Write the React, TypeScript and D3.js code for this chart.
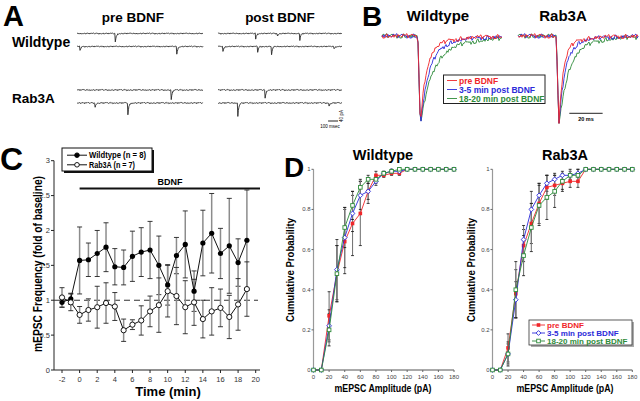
import React from 'react';
import * as d3 from 'd3';

// ---------------- Panel A : raw sweeps ----------------
const aColumns = ['pre BDNF', 'post BDNF'];
const aRows = ['Wildtype', 'Rab3A'];
const aPreEventTimes = [[380], [30, 990], [935], [180, 505]];
const aPreEventAmps = [[36], [16, 32], [40], [16, 48]];
const aPostEventTimes = [[380, 600, 825], [50, 400, 540, 1170], [475], [200, 1120]];
const aPostEventAmps = [[22, 10, 26], [22, 22, 34, 10], [34], [54, 12]];
const aScaleBarMs = 100;
const aScaleBarPA = 40;
const noise = [0.3, -0.5, 0.8, -0.2, 0.1, -0.9, 0.6, 0.2, -0.4, 0.7, -0.6, 0.0, 0.5, -0.3, 0.9, -0.8, 0.2, -0.1, 0.4, -0.7, 0.6, -0.2, 0.3, -0.5, 0.1, 0.8, -0.4, -0.9, 0.5, 0.2, -0.6, 0.7, -0.1, 0.0, 0.4, -0.3, 0.6];

// ---------------- Panel B : averaged mEPSCs ----------------
const bLegend = ['pre BDNF', '3-5 min post BDNF', '18-20 min post BDNF'];
const bColors = ['#f0262a', '#2b2bd9', '#2e8b3a'];
const bGenotypes = ['Wildtype', 'Rab3A'];
const bWtAmp = [0.96, 0.99, 1.0];
const bWtFastTau = [3.5, 5.0, 6.5];
const bWtSlowTau = [15, 18, 25];
const bWtSlowFrac = [0.15, 0.15, 0.2];
const bRabAmp = [0.98, 1.0, 0.99];
const bRabFastTau = [2.6, 3.6, 5.5];
const bRabSlowTau = [12, 14, 20];
const bRabSlowFrac = [0.12, 0.12, 0.15];
const bOnsetMs = [21.5, 23];
const bScaleMs = 20;

// ---------------- Panel C : frequency time course ----------------
const cTime = [-2, -1, 0, 1, 2, 3, 4, 5, 6, 7, 8, 9, 10, 11, 12, 13, 14, 15, 16, 17, 18, 19];
const cWt = [0.97, 1.02, 1.57, 1.58, 1.67, 1.76, 1.48, 1.47, 1.63, 1.69, 1.72, 1.5, 1.22, 1.64, 1.8, 1.13, 1.82, 1.96, 1.67, 1.78, 1.54, 1.86];
const cWtErr = [0.07, 0.08, 0.48, 0.24, 0.33, 0.35, 0.26, 0.25, 0.36, 0.35, 0.41, 0.42, 0.29, 0.26, 0.48, 0.29, 0.47, 0.57, 0.36, 0.68, 0.34, 0.72];
const cRab = [1.04, 0.97, 0.79, 0.86, 0.9, 0.96, 0.91, 0.57, 0.65, 0.71, 0.84, 0.93, 1.13, 1.06, 0.9, 0.97, 0.73, 0.84, 0.89, 0.76, 0.94, 1.16];
const cRabErr = [0.14, 0.12, 0.12, 0.16, 0.3, 0.29, 0.2, 0.16, 0.07, 0.21, 0.22, 0.39, 0.37, 0.41, 0.38, 0.33, 0.27, 0.34, 0.27, 0.31, 0.37, 0.39];
const cLegend = ['Wildtype (n = 8)', 'Rab3A (n = 7)'];
const cXTicks = [-2, 0, 2, 4, 6, 8, 10, 12, 14, 16, 18, 20];
const cYTicks = [0, 0.5, 1, 1.5, 2, 2.5, 3];

// ---------------- Panel D : cumulative amplitude ----------------
const dBins = [0, 10, 20, 30, 40, 50, 60, 70, 80, 90, 100, 110, 120, 130, 140, 150, 160, 170, 180];
const dWtPre = [0, 0, 0.27, 0.48, 0.64, 0.73, 0.78, 0.89, 0.97, 0.97, 0.98, 0.98, 1, 1, 1, 1, 1, 1, 1];
const dWtP35 = [0, 0, 0.22, 0.5, 0.66, 0.78, 0.87, 0.89, 0.94, 0.98, 0.99, 0.99, 1, 1, 1, 1, 1, 1, 1];
const dWtP1820 = [0, 0, 0.2, 0.48, 0.71, 0.82, 0.91, 0.95, 0.95, 0.98, 0.99, 1, 1, 1, 1, 1, 1, 1, 1];
const dWtPreErr = [0, 0, 0.12, 0.14, 0.16, 0.16, 0.16, 0.06, 0.02, 0.01, 0.01, 0.01, 0, 0, 0, 0, 0, 0, 0];
const dWtP35Err = [0, 0, 0.08, 0.15, 0.15, 0.09, 0.07, 0.04, 0.02, 0.01, 0.01, 0.01, 0, 0, 0, 0, 0, 0, 0];
const dWtP1820Err = [0, 0, 0.08, 0.14, 0.1, 0.07, 0.04, 0.02, 0.02, 0.01, 0.01, 0, 0, 0, 0, 0, 0, 0, 0];
const dRabPre = [0, 0, 0.11, 0.38, 0.62, 0.73, 0.83, 0.91, 0.92, 0.93, 0.94, 0.94, 1, 1, 1, 1, 1, 1, 1];
const dRabP35 = [0, 0, 0.08, 0.35, 0.65, 0.8, 0.87, 0.93, 0.95, 0.97, 0.97, 0.98, 1, 1, 1, 1, 1, 1, 1];
const dRabP1820 = [0, 0, 0.08, 0.4, 0.57, 0.71, 0.82, 0.86, 0.89, 0.94, 0.97, 0.97, 1, 1, 1, 1, 1, 1, 1];
const dRabPreErr = [0, 0, 0.07, 0.12, 0.08, 0.1, 0.1, 0.06, 0.05, 0.04, 0.03, 0.03, 0, 0, 0, 0, 0, 0, 0];
const dRabP35Err = [0, 0, 0.05, 0.09, 0.07, 0.09, 0.06, 0.04, 0.03, 0.02, 0.02, 0.02, 0, 0, 0, 0, 0, 0, 0];
const dRabP1820Err = [0, 0, 0.06, 0.14, 0.1, 0.12, 0.1, 0.11, 0.08, 0.04, 0.03, 0.03, 0, 0, 0, 0, 0, 0, 0];
const dXTicks = [0, 20, 40, 60, 80, 100, 120, 140, 160, 180];
const dYTicks = [0, 0.2, 0.4, 0.6, 0.8, 1];

const FONT = "'Liberation Sans', Arial, Helvetica, sans-serif";

function sweepPath(times: number[], amps: number[], sIdx: number, x: d3.ScaleLinear<number, number>, y: d3.ScaleLinear<number, number>) {
  const pts: [number, number][] = [];
  for (let i = 0; i <= 250; i++) {
    const t = i * 5;
    let v = noise[(i * 7 + sIdx * 11) % noise.length] * 2.6;
    times.forEach((te, k) => {
      if (t >= te) v -= amps[k] * Math.exp(-(t - te) / 9);
    });
    pts.push([x(t), y(v)]);
  }
  return d3.line()(pts) || '';
}

function epsc(t: number, onset: number, amp: number, fast: number, slow: number, frac: number) {
  if (t < onset) return 0;
  const rise = 1.5;
  if (t < onset + rise) return -amp * (t - onset) / rise;
  const s = t - onset - rise;
  return -amp * ((1 - frac) * Math.exp(-s / fast) + frac * Math.exp(-s / slow));
}

function markerShape(kind: number, cx: number, cy: number, color: string, key: string) {
  if (kind === 0) return <rect key={key} x={cx - 1.8} y={cy - 1.8} width={3.6} height={3.6} fill={color} />;
  if (kind === 1) return <path key={key} d={`M${cx},${cy - 2.4}L${cx + 2.4},${cy}L${cx},${cy + 2.4}L${cx - 2.4},${cy}Z`} fill="#fff" stroke={color} strokeWidth={0.9} />;
  return <rect key={key} x={cx - 1.8} y={cy - 1.8} width={3.6} height={3.6} fill="#fff" stroke={color} strokeWidth={0.9} />;
}

export default function App() {
  // ---------- Panel A ----------
  const aBase = [33.5, 46.5, 90, 103];
  const aX = [d3.scaleLinear().domain([0, 1250]).range([77, 203]), d3.scaleLinear().domain([0, 1250]).range([218, 342])];
  const aSweeps: JSX.Element[] = [];
  [aPreEventTimes, aPostEventTimes].forEach((tList, c) => {
    const aList = c === 0 ? aPreEventAmps : aPostEventAmps;
    tList.forEach((times, s) => {
      const y = d3.scaleLinear().domain([-40, 0]).range([aBase[s] + 10, aBase[s]]);
      aSweeps.push(<path key={`a${c}${s}`} d={sweepPath(times, aList[s], s + c * 4, aX[c], y)} fill="none" stroke="#2a2a2a" strokeWidth={0.9} />);
    });
  });
  const aBarX1 = 338;
  const aBarX0 = aBarX1 - (aX[1](aScaleBarMs) - aX[1](0));
  const aBarYScale = d3.scaleLinear().domain([-40, 0]).range([121, 111]);

  // ---------- Panel B ----------
  const bX = [d3.scaleLinear().domain([0, 72]).range([382, 502]), d3.scaleLinear().domain([0, 72]).range([518, 638])];
  const bY = d3.scaleLinear().domain([-1, 0]).range([127, 36]);
  const bParams = [
    [bWtAmp, bWtFastTau, bWtSlowTau, bWtSlowFrac],
    [bRabAmp, bRabFastTau, bRabSlowTau, bRabSlowFrac],
  ];
  const bTraces: JSX.Element[] = [];
  bParams.forEach((p, g) => {
    [2, 1, 0].forEach((c) => {
      const pts: [number, number][] = [];
      for (let i = 0; i <= 120; i++) {
        const t = i * 0.6;
        const v = epsc(t, bOnsetMs[g], p[0][c], p[1][c], p[2][c], p[3][c]) + noise[(i * 5 + c * 13 + g * 3) % noise.length] * 0.028;
        pts.push([bX[g](t), bY(v)]);
      }
      bTraces.push(<path key={`b${g}${c}`} d={d3.line()(pts) || ''} fill="none" stroke={bColors[c]} strokeWidth={0.9} />);
    });
  });

  // ---------- Panel C ----------
  const cx = d3.scaleLinear().domain([-2, 20]).range([62, 255.7]);
  const cy = d3.scaleLinear().domain([0, 3]).range([370, 160.7]);
  const cLine = d3.line<number>().x((_, i) => cx(cTime[i])).y((d) => cy(d));

  // ---------- Panel D ----------
  const dy = d3.scaleLinear().domain([0, 1]).range([370, 169.3]);
  const dPanels = [
    { x: d3.scaleLinear().domain([0, 180]).range([313.5, 454]), series: [dWtPre, dWtP35, dWtP1820], errs: [dWtPreErr, dWtP35Err, dWtP1820Err], title: bGenotypes[0], tx: 383, ylx: 290 },
    { x: d3.scaleLinear().domain([0, 180]).range([492.5, 632.3]), series: [dRabPre, dRabP35, dRabP1820], errs: [dRabPreErr, dRabP35Err, dRabP1820Err], title: bGenotypes[1], tx: 565, ylx: 471 },
  ];

  return (
    <svg width={640} height={401} style={{ position: 'absolute', left: 0, top: 0, background: '#fff' }} fontFamily={FONT}>
      <rect x={0} y={0} width={640} height={401} fill="#fff" />
      {/* Panel letters */}
      <text x={3} y={26} fontSize={29} fontWeight={900}>A</text>
      <text x={362} y={26} fontSize={28} fontWeight={900}>B</text>
      <text x={0} y={170} fontSize={32} fontWeight={900}>C</text>
      <text x={284} y={177} fontSize={28} fontWeight={900}>D</text>

      {/* ---- Panel A ---- */}
      {aColumns.map((c, i) => (
        <text key={c} x={[133, 280][i]} y={22} fontSize={13.5} fontWeight="bold" textAnchor="middle">{c}</text>
      ))}
      {aRows.map((r, i) => (
        <text key={r} x={12} y={[47, 103][i]} fontSize={[14, 13.5][i]} fontWeight="bold">{r}</text>
      ))}
      {aSweeps}
      <path d={`M${aBarX0},${aBarYScale(0) + 10}H${aBarX1}V${aBarYScale(-aScaleBarPA) - 0}`} fill="none" stroke="#222" strokeWidth={1} />
      <text x={(aBarX0 + aBarX1) / 2 - 3} y={128} fontSize={4.5} textAnchor="middle">{aScaleBarMs} msec</text>
      <text transform={`translate(343,116) rotate(-90)`} fontSize={4.5} textAnchor="middle">{aScaleBarPA} pA</text>

      {/* ---- Panel B ---- */}
      {bGenotypes.map((g, i) => (
        <text key={g} x={[438, 563][i]} y={21} fontSize={15} fontWeight="bold" textAnchor="middle">{g}</text>
      ))}
      {bTraces}
      <rect x={443.5} y={75} width={101.5} height={28.5} fill="#fff" stroke="#222" strokeWidth={1} />
      {bLegend.map((l, i) => (
        <g key={l}>
          <line x1={447} x2={457} y1={80.5 + i * 9} y2={80.5 + i * 9} stroke={bColors[i]} strokeWidth={0.9} />
          <text x={459} y={83.5 + i * 9} fontSize={8.5} fontWeight="bold" fill={bColors[i]}>{l}</text>
        </g>
      ))}
      <line x1={569.3} x2={569.3 + bX[1](bScaleMs) - bX[1](0)} y1={113.3} y2={113.3} stroke="#222" strokeWidth={1} />
      <text x={586} y={121} fontSize={5.5} fontWeight="bold" textAnchor="middle">{bScaleMs} ms</text>

      {/* ---- Panel C ---- */}
      <line x1={54} x2={54} y1={cy(3)} y2={370} stroke="#222" strokeWidth={1} />
      <line x1={54} x2={260} y1={370} y2={370} stroke="#222" strokeWidth={1} />
      {cYTicks.map((t) => (
        <g key={`cy${t}`}>
          <line x1={51} x2={54} y1={cy(t)} y2={cy(t)} stroke="#222" />
          <text x={50} y={cy(t) + 2.7} fontSize={7.5} textAnchor="end" fill="#333">{t}</text>
        </g>
      ))}
      {cXTicks.map((t) => (
        <g key={`cx${t}`}>
          <line x1={cx(t)} x2={cx(t)} y1={370} y2={373} stroke="#222" />
          <text x={cx(t)} y={382} fontSize={7.5} textAnchor="middle" fill="#333">{t}</text>
        </g>
      ))}
      <text transform={`translate(42,264) rotate(-90)`} fontSize={12} fontWeight="bold" textAnchor="middle" textLength={176} lengthAdjust="spacingAndGlyphs">mEPSC Frequency (fold of baseline)</text>
      <text x={168} y={396} fontSize={13} fontWeight="bold" textAnchor="middle">Time (min)</text>
      <line x1={54} x2={258} y1={cy(1)} y2={cy(1)} stroke="#333" strokeWidth={1.1} strokeDasharray="6,4" />
      <line x1={cx(0)} x2={260} y1={188.5} y2={188.5} stroke="#111" strokeWidth={2} />
      <text x={170} y={185} fontSize={9} fontWeight="bold" textAnchor="middle">BDNF</text>
      {[[cWt, cWtErr], [cRab, cRabErr]].map(([vals, errs], s) => (
        <g key={`ce${s}`}>
          {vals.map((v, i) => (
            <g key={i}>
              <line x1={cx(cTime[i])} x2={cx(cTime[i])} y1={cy(v - errs[i])} y2={cy(v + errs[i])} stroke="#8c8c8c" strokeWidth={1.5} />
              <line x1={cx(cTime[i]) - 2.5} x2={cx(cTime[i]) + 2.5} y1={cy(v + errs[i])} y2={cy(v + errs[i])} stroke="#222" strokeWidth={0.9} />
              <line x1={cx(cTime[i]) - 2.5} x2={cx(cTime[i]) + 2.5} y1={cy(v - errs[i])} y2={cy(v - errs[i])} stroke="#222" strokeWidth={0.9} />
            </g>
          ))}
        </g>
      ))}
      <path d={cLine(cWt) || ''} fill="none" stroke="#111" strokeWidth={1} />
      <path d={cLine(cRab) || ''} fill="none" stroke="#111" strokeWidth={1} />
      {cWt.map((v, i) => <circle key={`cw${i}`} cx={cx(cTime[i])} cy={cy(v)} r={2.6} fill="#000" />)}
      {cRab.map((v, i) => <circle key={`cr${i}`} cx={cx(cTime[i])} cy={cy(v)} r={2.6} fill="#fff" stroke="#000" strokeWidth={0.9} />)}
      {/* legend C */}
      <rect x={64} y={150} width={90} height={23} fill="#111" />
      <rect x={62} y={148} width={90} height={23} fill="#fff" stroke="#111" strokeWidth={1} />
      {cLegend.map((l, i) => (
        <g key={l}>
          <line x1={67} x2={87} y1={155.2 + i * 9.6} y2={155.2 + i * 9.6} stroke="#111" strokeWidth={1} />
          <circle cx={77} cy={155.2 + i * 9.6} r={2.3} fill={i === 0 ? '#000' : '#fff'} stroke="#000" strokeWidth={0.9} />
          <text x={89} y={158.2 + i * 9.6} fontSize={8.5} fontWeight="bold" textLength={i === 0 ? 57 : 46} lengthAdjust="spacingAndGlyphs">{l}</text>
        </g>
      ))}

      {/* ---- Panel D ---- */}
      {dPanels.map((p, pi) => (
        <g key={`d${pi}`}>
          <text x={p.tx} y={160} fontSize={14.5} fontWeight="bold" textAnchor="middle">{p.title}</text>
          <line x1={p.x(0)} x2={p.x(0)} y1={dy(1)} y2={370} stroke="#999" strokeWidth={1.2} />
          <line x1={p.x(0)} x2={p.x(180)} y1={370} y2={370} stroke="#555" strokeWidth={1} />
          {dYTicks.map((t) => (
            <g key={`dy${t}`}>
              <line x1={p.x(0) - 2} x2={p.x(0)} y1={dy(t)} y2={dy(t)} stroke="#666" />
              <text x={p.x(0) - 3} y={dy(t) + 2} fontSize={6} textAnchor="end" fill="#444">{t}</text>
            </g>
          ))}
          {dXTicks.map((t) => (
            <g key={`dx${t}`}>
              <line x1={p.x(t)} x2={p.x(t)} y1={370} y2={372} stroke="#666" />
              <text x={p.x(t)} y={378.5} fontSize={6} textAnchor="middle" fill="#444">{t}</text>
            </g>
          ))}
          <text transform={`translate(${p.ylx + 4},270) rotate(-90)`} fontSize={11} fontWeight="bold" textAnchor="middle" textLength={104} lengthAdjust="spacingAndGlyphs">Cumulative Probability</text>
          <text x={p.tx} y={392} fontSize={10} fontWeight="bold" textAnchor="middle" textLength={97} lengthAdjust="spacingAndGlyphs">mEPSC Amplitude (pA)</text>
          {p.series.map((s, si) => (
            <g key={`de${si}`}>
              {s.map((v, i) => p.errs[si][i] > 0 ? (
                <g key={i}>
                  <line x1={p.x(dBins[i])} x2={p.x(dBins[i])} y1={dy(v - p.errs[si][i])} y2={dy(v + p.errs[si][i])} stroke="#777" strokeWidth={1.1} />
                  <line x1={p.x(dBins[i]) - 1.5} x2={p.x(dBins[i]) + 1.5} y1={dy(v + p.errs[si][i])} y2={dy(v + p.errs[si][i])} stroke="#111" strokeWidth={0.8} />
                  <line x1={p.x(dBins[i]) - 1.5} x2={p.x(dBins[i]) + 1.5} y1={dy(v - p.errs[si][i])} y2={dy(v - p.errs[si][i])} stroke="#111" strokeWidth={0.8} />
                </g>
              ) : null)}
            </g>
          ))}
          {p.series.map((s, si) => (
            <g key={`dl${si}`}>
              <path d={d3.line<number>().x((_, i) => p.x(dBins[i])).y((d) => dy(d))(s) || ''} fill="none" stroke={bColors[si]} strokeWidth={0.9} />
              {s.map((v, i) => markerShape(si, p.x(dBins[i]), dy(v), bColors[si], `m${si}${i}`))}
            </g>
          ))}
        </g>
      ))}
      {/* legend D */}
      <rect x={531} y={322} width={103} height={25} fill="#aaa" />
      <rect x={529} y={320} width={103} height={25} fill="#fff" stroke="#333" strokeWidth={0.8} />
      {bLegend.map((l, i) => (
        <g key={`dlg${i}`}>
          <line x1={532} x2={545} y1={325 + i * 8} y2={325 + i * 8} stroke={bColors[i]} strokeWidth={0.9} />
          {markerShape(i, 538.5, 325 + i * 8, bColors[i], `lm${i}`)}
          <text x={547} y={328 + i * 8} fontSize={8} fontWeight="bold" fill={bColors[i]}>{l}</text>
        </g>
      ))}
    </svg>
  );
}
